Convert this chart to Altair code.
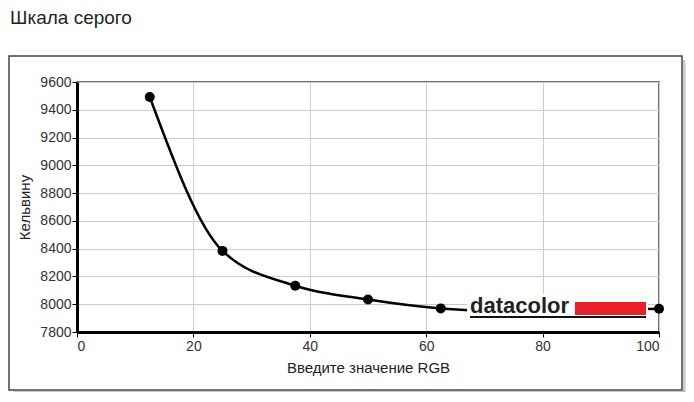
import altair as alt
import pandas as pd

# Data
rgb_values = [12.5, 25, 37.5, 50, 62.5, 75, 87.5, 100]
kelvin_values = [9492, 8384, 8133, 8034, 7970, 7948, 7955, 7968]

x_ticks = [0, 20, 40, 60, 80, 100]
y_ticks = [7800, 8000, 8200, 8400, 8600, 8800, 9000, 9200, 9400, 9600]

title_text = "Шкала серого"
x_title = "Введите значение RGB"
y_title = "Кельвину"
logo_text = "datacolor"

df = pd.DataFrame({"rgb": rgb_values, "kelvin": kelvin_values})
one = pd.DataFrame({"a": [0]})

FONT = "Liberation Sans"

axis_common = dict(
    grid=True, gridColor="#cccccc", gridWidth=1,
    domainColor="#000000", domainWidth=3, tickColor="#000000", tickSize=5, tickWidth=1,
    labelFontSize=14, labelColor="#333333", labelFont=FONT, labelOverlap=False, format="d",
    titleFont=FONT, titleFontSize=15, titleFontWeight="normal", titleColor="#222222",
)

x_enc = alt.X(
    "rgb:Q",
    scale=alt.Scale(domain=[0, 100], nice=False),
    axis=alt.Axis(values=x_ticks, tickCount=len(x_ticks), title=x_title,
                  labelPadding=2, titlePadding=7, **axis_common),
)
y_enc = alt.Y(
    "kelvin:Q",
    scale=alt.Scale(domain=[7800, 9600], nice=False, zero=False),
    axis=alt.Axis(values=y_ticks, tickCount=len(y_ticks), title=y_title,
                  labelPadding=1, titlePadding=7, **axis_common),
)

base = alt.Chart(df).encode(x=x_enc, y=y_enc)
line = base.mark_line(interpolate="monotone", color="#000000", strokeWidth=2.5)
pts = base.mark_circle(size=100, color="#000000", opacity=1)

deco = alt.Chart(one)


def rect(x, x2, y, y2, **kw):
    return deco.mark_rect(**kw).encode(
        x=alt.value(x), x2=alt.value(x2), y=alt.value(y), y2=alt.value(y2)
    )


# outer frame shadow strips
shadow = [
    rect(606, 608, -22, 312, fill="#888888", opacity=0.45),
    rect(608, 610, -20, 312, fill="#888888", opacity=0.25),
    rect(610, 612, -18, 312, fill="#888888", opacity=0.12),
    rect(-64, 608, 309, 311, fill="#888888", opacity=0.45),
    rect(-62, 610, 311, 313, fill="#888888", opacity=0.25),
]
frame = rect(-68, 605, -26, 308, fill="transparent", stroke="#444444", strokeWidth=1.5)

title = deco.mark_text(
    text=title_text, align="left", baseline="alphabetic", fontSize=19, font=FONT, color="#222222"
).encode(x=alt.value(-67), y=alt.value(-58))

logo_bg = rect(390, 571, 212, 248, fill="#ffffff")
logo_red = rect(498, 569, 220, 233, fill="#e8202a")
logo_txt = deco.mark_text(
    text=logo_text, align="left", baseline="alphabetic", fontSize=22, fontWeight="bold",
    font=FONT, color="#222222"
).encode(x=alt.value(393), y=alt.value(231))
logo_line = deco.mark_rule(color="#111111", strokeWidth=2).encode(
    x=alt.value(393), x2=alt.value(569), y=alt.value(235)
)

chart = alt.layer(
    *shadow, frame, line, pts, logo_bg, logo_red, logo_txt, logo_line, title
).properties(
    width=582, height=250,
    autosize=alt.AutoSizeParams(type="none"),
    padding={"left": 69, "top": 74, "right": 27, "bottom": 60},
    background="#ffffff",
).configure_view(stroke="#444444", strokeWidth=1.5)

chart.save("out.html", embed_options={"renderer": "svg", "actions": False})
